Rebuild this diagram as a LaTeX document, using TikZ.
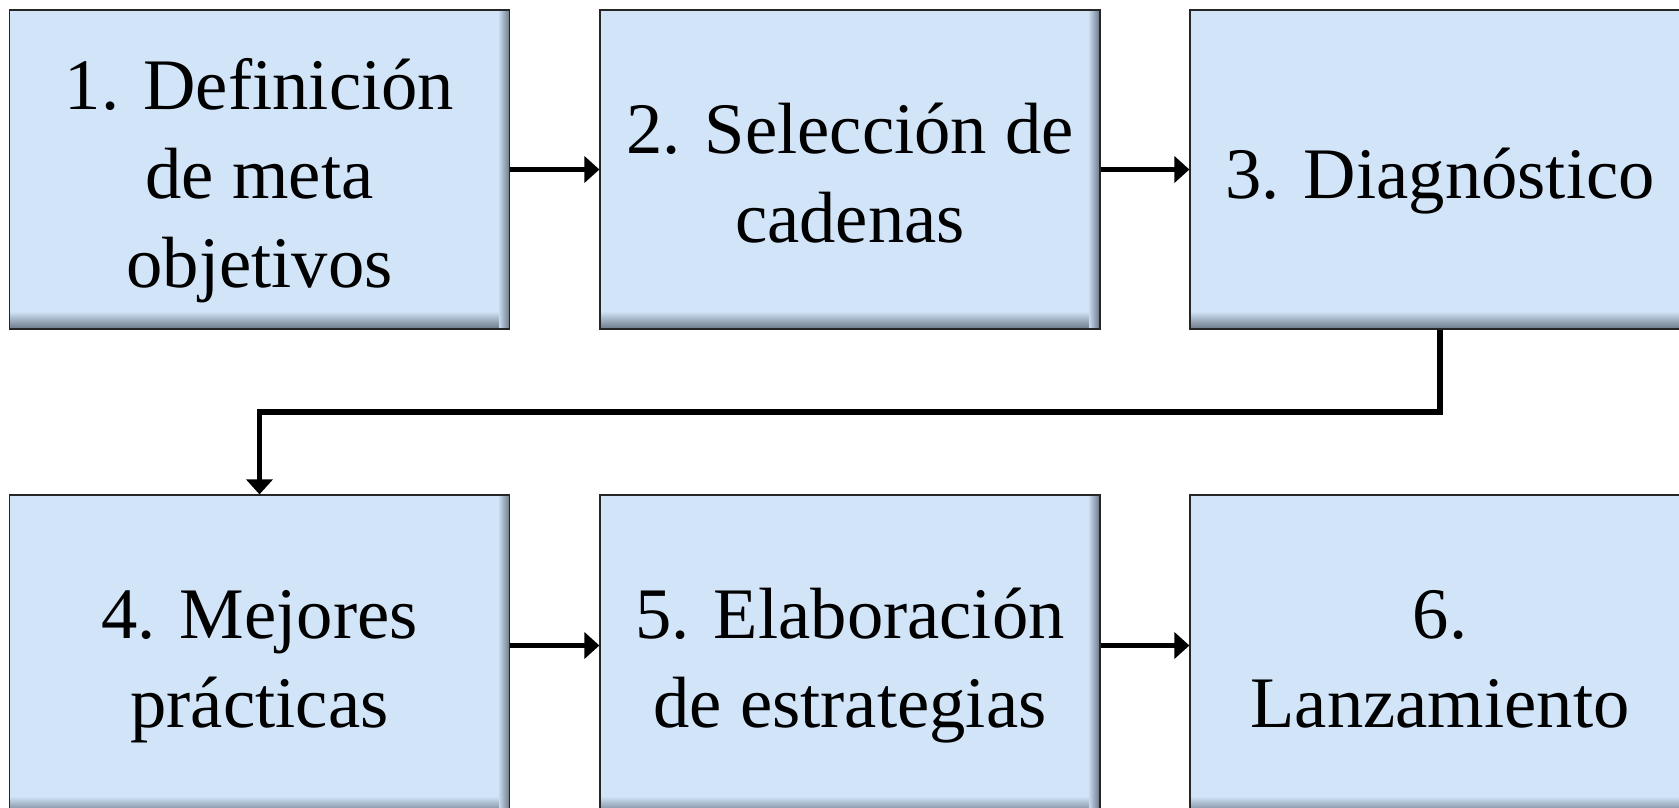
\documentclass[tikz,border=0pt]{standalone}
\usepackage{fontspec}
\setmainfont{Liberation Serif}
\usepackage{tikz}
\usetikzlibrary{arrows.meta}
\definecolor{boxfill}{RGB}{209,228,248}
\definecolor{boxedge}{RGB}{112,126,142}
\newcommand{\lstrut}{\rule[-16pt]{0pt}{89pt}}
\tikzstyle{edge_shade}=[
    {path picture={
        \foreach \k [evaluate=\k as \pct using int(100-6*\k),
                     evaluate=\k as \kk using \k+1] in {0,...,16}
          \fill[boxedge!\pct!boxfill]
          ([yshift=\k pt]path picture bounding box.south west) rectangle
          ([yshift=\kk pt]path picture bounding box.south east);
        \foreach \k [evaluate=\k as \pct using int(100-9*\k),
                     evaluate=\k as \kk using \k+1] in {0,...,10}
          \fill[boxedge!\pct!boxfill]
          ([xshift=-\k pt]path picture bounding box.north east) rectangle
          ([xshift=-\kk pt]path picture bounding box.south east);
      }
    }
]
\tikzstyle{step_box}=[rectangle, fill=boxfill, draw=black!85, line width=1.2pt,
    minimum width=500pt, minimum height=319pt, inner sep=0pt, align=center,
    font=\fontsize{72.6pt}{89pt}\selectfont, edge_shade]
\tikzstyle{flow_arrow}=[line width=5.5pt, -{Triangle[length=15pt,width=26pt]}]

\begin{document}
\begin{tikzpicture}[x=1pt,y=-1pt]
          \clip (0,0) rectangle (1679,808);
          \fill[white] (0,0) rectangle (1679,808);
          \node[step_box] (s1) at (259.5,169.5){\lstrut 1. Definición\\\lstrut de meta\\\lstrut objetivos};
          \node[step_box] (s2) at (850,169.5){\lstrut 2. Selección de\\\lstrut cadenas};
          \node[step_box] (s3) at (1440,169.5){\lstrut 3. Diagnóstico};
          \node[step_box] (s4) at (259.5,654.5){\lstrut 4. Mejores\\\lstrut prácticas};
          \node[step_box] (s5) at (850,654.5){\lstrut 5. Elaboración\\\lstrut de estrategias};
          \node[step_box] (s6) at (1440,654.5){\lstrut 6.\\\lstrut Lanzamiento};
          \coordinate (turn) at (1440,412);
          \draw[flow_arrow](s1) -- (s2);
          \draw[flow_arrow](s2) -- (s3);
          \draw[flow_arrow](s3.south) -- (turn) -| (s4.north);
          \draw[flow_arrow]([yshift=9pt]s4.east) -- ([yshift=9pt]s5.west);
          \draw[flow_arrow]([yshift=9pt]s5.east) -- ([yshift=9pt]s6.west);
        \end{tikzpicture}
\end{document}
